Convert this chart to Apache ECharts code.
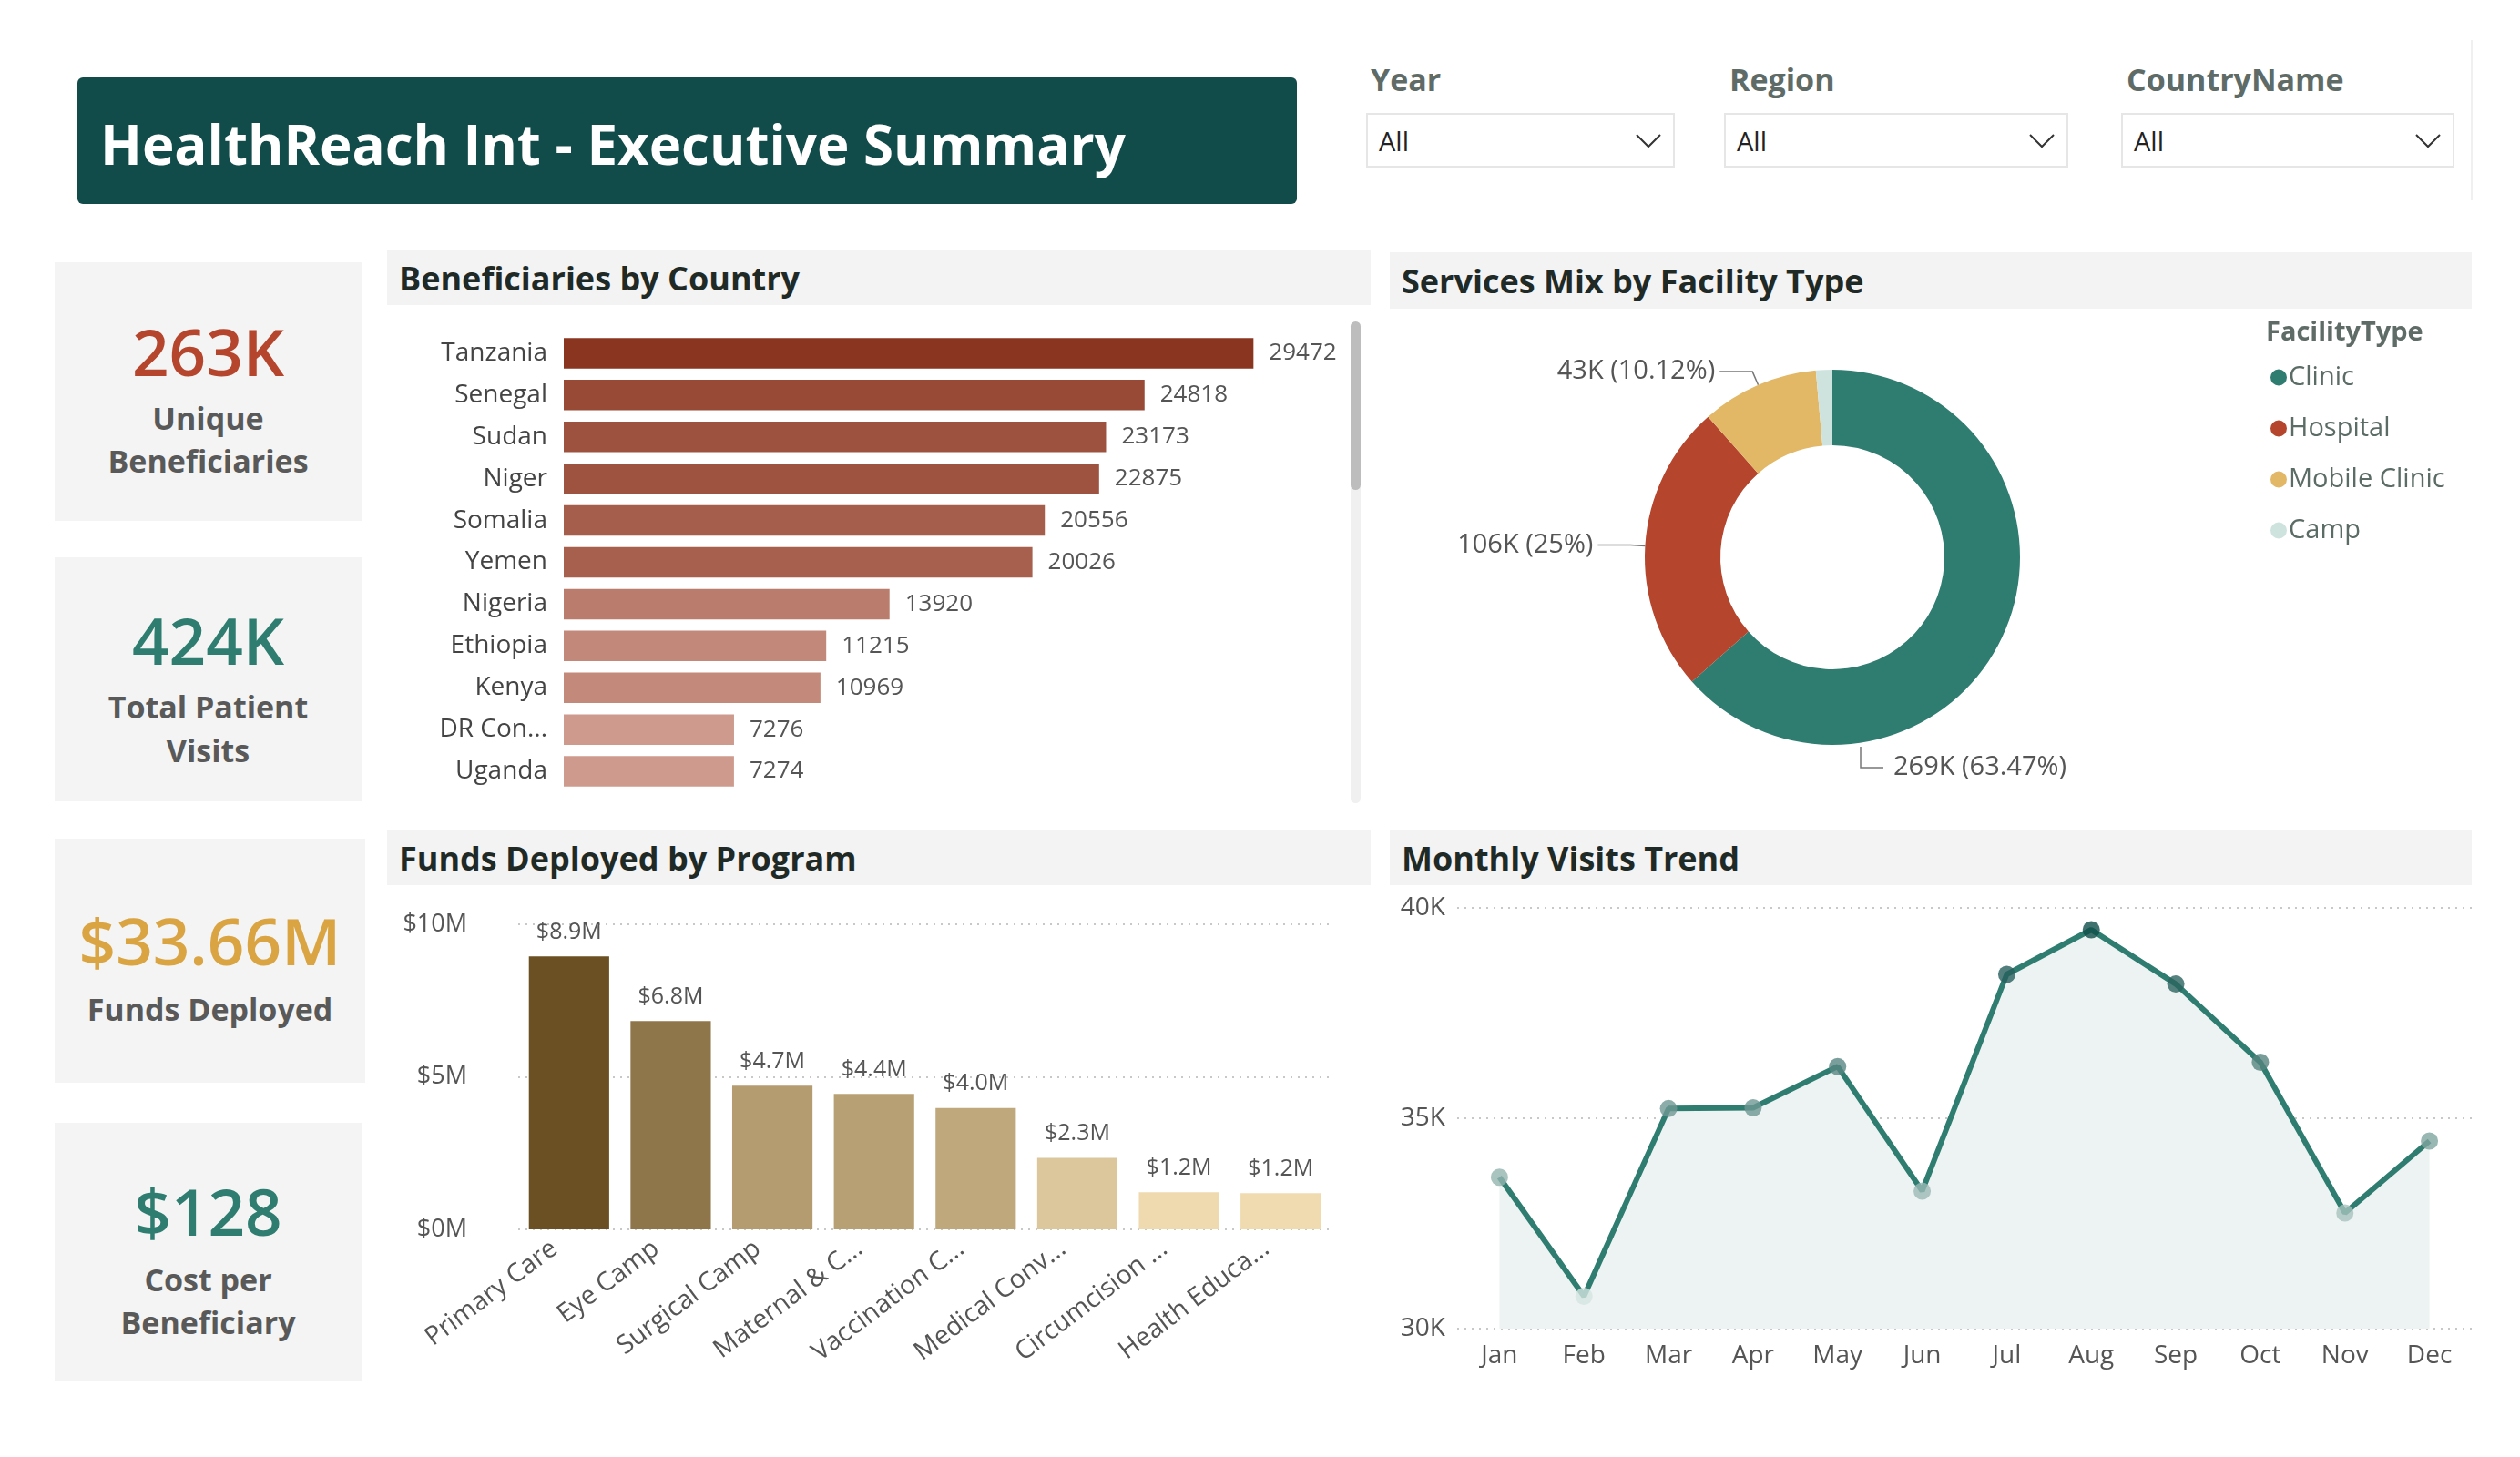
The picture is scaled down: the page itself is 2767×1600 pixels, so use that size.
<!DOCTYPE html>
<html>
<head>
<meta charset="utf-8">
<title>HealthReach Int - Executive Summary</title>
<script src="https://cdn.jsdelivr.net/npm/echarts@6/dist/echarts.min.js"></script>
<style>
  html, body { margin: 0; padding: 0; background: #fff; }
  body { width: 2767px; height: 1600px; position: relative; overflow: hidden; font-family: 'Segoe UI', 'Open Sans', sans-serif; }
  .abs { position: absolute; }
  .banner { left: 85px; top: 85px; width: 1339px; height: 139px; background: #114c4a; border-radius: 6px; }
  .banner span { position: absolute; left: 25px; top: 50%; transform: translateY(-46%); color: #fff; font-weight: 700; font-size: 60px; white-space: nowrap; }
  .slicer-label { font-size: 34px; font-weight: 700; color: #5f6b66; transform: translateY(-50%); }
  .slicer-box { border: 2px solid #e6e6e6; box-sizing: border-box; height: 60px; top: 124px; background: #fff; }
  .slicer-box span { position: absolute; left: 12px; top: 50%; transform: translateY(-50%); font-size: 29px; color: #222; }
  .slicer-box svg { position: absolute; right: 12px; top: 20px; }
  .card { background: #f3f4f3; left: 60px; }
  .card div { position: absolute; left: 0; right: 0; text-align: center; transform: translateY(-50%); white-space: nowrap; }
  .kpi { font-size: 71px; font-weight: 600; }
  .kpi-label { font-size: 34px; font-weight: 700; color: #595959; }
  .head { background: #f3f3f3; }
  .head span { position: absolute; left: 13px; top: 50%; transform: translateY(-50%); font-size: 36px; font-weight: 700; color: #1f2a27; white-space: nowrap; }
</style>
</head>
<body>

<div class="abs banner"><span>HealthReach Int - Executive Summary</span></div>

<div class="abs slicer-label" style="left:1505px; top:87px;">Year</div>
<div class="abs slicer-box" style="left:1500px; width:339px;"><span>All</span>
  <svg width="30" height="18"><polyline points="2,2 15,15 28,2" fill="none" stroke="#333" stroke-width="2"/></svg></div>
<div class="abs slicer-label" style="left:1899px; top:87px;">Region</div>
<div class="abs slicer-box" style="left:1893px; width:378px;"><span>All</span>
  <svg width="30" height="18"><polyline points="2,2 15,15 28,2" fill="none" stroke="#333" stroke-width="2"/></svg></div>
<div class="abs slicer-label" style="left:2335px; top:87px;">CountryName</div>
<div class="abs slicer-box" style="left:2329px; width:366px;"><span>All</span>
  <svg width="30" height="18"><polyline points="2,2 15,15 28,2" fill="none" stroke="#333" stroke-width="2"/></svg></div>
<div class="abs" style="left:2713px; top:44px; width:2px; height:176px; background:#f0f0f0;"></div>

<div class="abs card" style="top:288px; width:337px; height:284px;">
  <div class="kpi" style="top:97px; color:#b5452c;">263K</div>
  <div class="kpi-label" style="top:171px;">Unique</div>
  <div class="kpi-label" style="top:218px;">Beneficiaries</div>
</div>
<div class="abs card" style="top:612px; width:337px; height:268px;">
  <div class="kpi" style="top:90px; color:#2e7d70;">424K</div>
  <div class="kpi-label" style="top:164px;">Total Patient</div>
  <div class="kpi-label" style="top:212px;">Visits</div>
</div>
<div class="abs card" style="top:921px; width:341px; height:268px;">
  <div class="kpi" style="top:111px; color:#d9a441;">$33.66M</div>
  <div class="kpi-label" style="top:187px;">Funds Deployed</div>
</div>
<div class="abs card" style="top:1233px; width:337px; height:283px;">
  <div class="kpi" style="top:96px; color:#2e7d70;">$128</div>
  <div class="kpi-label" style="top:172px;">Cost per</div>
  <div class="kpi-label" style="top:219px;">Beneficiary</div>
</div>

<div class="abs head" style="left:425px; top:275px; width:1080px; height:60px;"><span>Beneficiaries by Country</span></div>
<div class="abs head" style="left:1526px; top:277px; width:1188px; height:62px;"><span>Services Mix by Facility Type</span></div>
<div class="abs head" style="left:425px; top:912px; width:1080px; height:60px;"><span>Funds Deployed by Program</span></div>
<div class="abs head" style="left:1526px; top:911px; width:1188px; height:61px;"><span>Monthly Visits Trend</span></div>

<div class="abs" id="country" style="left:425px; top:340px; width:1055px; height:560px;"></div>
<div class="abs" style="left:1483px; top:353px; width:11px; height:529px; background:#f0f0f0; border-radius:6px;"></div>
<div class="abs" style="left:1483px; top:353px; width:11px; height:185px; background:#bdbdbd; border-radius:6px;"></div>
<div class="abs" id="facility" style="left:1526px; top:340px; width:1188px; height:560px;"></div>
<div class="abs" id="funds" style="left:425px; top:975px; width:1080px; height:585px;"></div>
<div class="abs" id="monthly" style="left:1526px; top:975px; width:1188px; height:585px;"></div>

<script>
const FONT = "'Segoe UI', 'Open Sans', sans-serif";

// beneficiaries by country
const countries = ['Tanzania', 'Senegal', 'Sudan', 'Niger', 'Somalia', 'Yemen', 'Nigeria', 'Ethiopia', 'Kenya', 'DR Con...', 'Uganda'];
const beneficiaries = [29472, 24818, 23173, 22875, 20556, 20026, 13920, 11215, 10969, 7276, 7274];

// services mix
const facilityTypes = ['Clinic', 'Hospital', 'Mobile Clinic', 'Camp'];
const facilityVisits = [269100, 106000, 42900, 5980];
const facilityColors = ['#2e7d70', '#b5452c', '#e2b766', '#cfe3de'];

// funds by program
const programs = ['Primary Care', 'Eye Camp', 'Surgical Camp', 'Maternal & C...', 'Vaccination C...', 'Medical Conv...', 'Circumcision ...', 'Health Educa...'];
const programFunds = [8950000, 6830000, 4710000, 4440000, 3980000, 2340000, 1220000, 1190000];

// monthly visits
const months = ['Jan', 'Feb', 'Mar', 'Apr', 'May', 'Jun', 'Jul', 'Aug', 'Sep', 'Oct', 'Nov', 'Dec'];
const monthlyVisits = [33600, 30770, 35230, 35250, 36230, 33270, 38420, 39480, 38190, 36330, 32750, 34460];

let dotted = { lineStyle: { type: [2, 6], color: '#c8c8c8', width: 2 } };

//bar chart - countries
let countryChart = echarts.init(document.getElementById('country'));
countryChart.setOption({
  textStyle: { fontFamily: FONT },
  grid: { left: 194, top: 25, width: 848, height: 505 },
  visualMap: {
    show: false, type: 'continuous', dimension: 0,
    min: Math.min(...beneficiaries), max: Math.max(...beneficiaries),
    inRange: { color: ['#ce9a8d', '#8a3520'] }
  },
  xAxis: { type: 'value', min: 0, max: 33000, show: false },
  yAxis: {
    type: 'category', inverse: true, data: countries,
    axisLine: { show: false }, axisTick: { show: false },
    axisLabel: { fontSize: 28, color: '#444', margin: 18 }
  },
  series: [{
    type: 'bar', barCategoryGap: '27%',
    data: beneficiaries.map((v, i) => [v, countries[i]]),
    label: { show: true, position: 'right', distance: 17, fontSize: 26, color: '#555', formatter: p => p.value[0] }
  }]
});

//donut
const pieCenter = [486, 272], pieRadius = [123, 206];
let facilityChart = echarts.init(document.getElementById('facility'));
facilityChart.setOption({
  textStyle: { fontFamily: FONT },
  color: facilityColors,
  title: { text: 'FacilityType', left: 957, top: 6, textStyle: { fontSize: 29, fontWeight: 'bold', color: '#5f6b66' } },
  legend: {
    orient: 'vertical', left: 962, top: 55, icon: 'circle',
    itemWidth: 18, itemHeight: 18, itemGap: 27,
    textStyle: { fontSize: 29, color: '#5b6b66', padding: [0, 0, 0, -3] },
    data: facilityTypes
  },
  series: [{
    type: 'pie', center: pieCenter, radius: pieRadius, startAngle: 90,
    minShowLabelAngle: 10,
    data: facilityTypes.map((n, i) => ({ name: n, value: facilityVisits[i] })),
    label: { fontSize: 29, color: '#555', formatter: p => Math.round(p.value / 1000) + 'K (' + p.percent + '%)' },
    labelLine: { length: 16, length2: 36, lineStyle: { color: '#777', width: 1.5 } },
    // Power BI puts the biggest slice's label under the ring
    labelLayout: function (p) {
      if (p.dataIndex !== 0) return {};
      let cx = pieCenter[0], cy = pieCenter[1], r = pieRadius[1];
      return {
        x: cx + 67, y: cy + r + 25, align: 'left', verticalAlign: 'middle',
        labelLinePoints: [[cx + 31, cy + r + 2], [cx + 31, cy + r + 25], [cx + 56, cy + r + 25]]
      };
    }
  }]
});

//column chart - funds
let fundsChart = echarts.init(document.getElementById('funds'));
fundsChart.setOption({
  textStyle: { fontFamily: FONT },
  grid: { left: 144, top: 40, width: 893, height: 335 },
  visualMap: {
    show: false, type: 'continuous', dimension: 1,
    min: Math.min(...programFunds), max: Math.max(...programFunds),
    inRange: { color: ['#f0dab0', '#6b5023'] }
  },
  xAxis: {
    type: 'category', data: programs,
    axisLine: { show: false }, axisTick: { show: false },
    axisLabel: { rotate: 37, interval: 0, fontSize: 28.5, color: '#555', margin: 6, padding: [0, 20, 0, 0] }
  },
  yAxis: {
    type: 'value', min: 0, max: 10000000, interval: 5000000,
    axisLabel: { fontSize: 27, color: '#555', margin: 56, formatter: v => '$' + v / 1000000 + 'M' },
    splitLine: dotted
  },
  series: [{
    type: 'bar', barWidth: '79%',
    data: programFunds.map((v, i) => [programs[i], v]),
    label: { show: true, position: 'top', distance: 14, fontSize: 25, color: '#555', formatter: p => '$' + (p.value[1] / 1000000).toFixed(1) + 'M' }
  }]
});

//line chart - monthly
let monthlyChart = echarts.init(document.getElementById('monthly'));
monthlyChart.setOption({
  textStyle: { fontFamily: FONT },
  grid: { left: 74, top: 22, width: 1115, height: 462 },
  visualMap: {
    show: false, type: 'continuous', seriesIndex: 1, dimension: 1,
    min: Math.min(...monthlyVisits), max: Math.max(...monthlyVisits),
    inRange: { color: ['#d3e5e0', '#0f4d4a'] }
  },
  xAxis: {
    type: 'category', data: months, boundaryGap: true,
    axisLine: { show: false }, axisTick: { show: false },
    axisLabel: { fontSize: 28, color: '#555', margin: 16 }
  },
  yAxis: {
    type: 'value', min: 30000, max: 40000, interval: 5000,
    axisLabel: { fontSize: 28, color: '#555', margin: 13, formatter: v => v / 1000 + 'K' },
    splitLine: dotted
  },
  series: [
    {
      type: 'line', data: monthlyVisits, showSymbol: false, z: 2,
      lineStyle: { color: '#2e7d70', width: 6 }, itemStyle: { color: '#2e7d70' },
      areaStyle: { color: '#edf3f2', origin: 'start', opacity: 1 }
    },
    {
      type: 'scatter', symbolSize: 19, z: 10,
      data: monthlyVisits.map((v, i) => [months[i], v])
    }
  ]
});
</script>
</body>
</html>
